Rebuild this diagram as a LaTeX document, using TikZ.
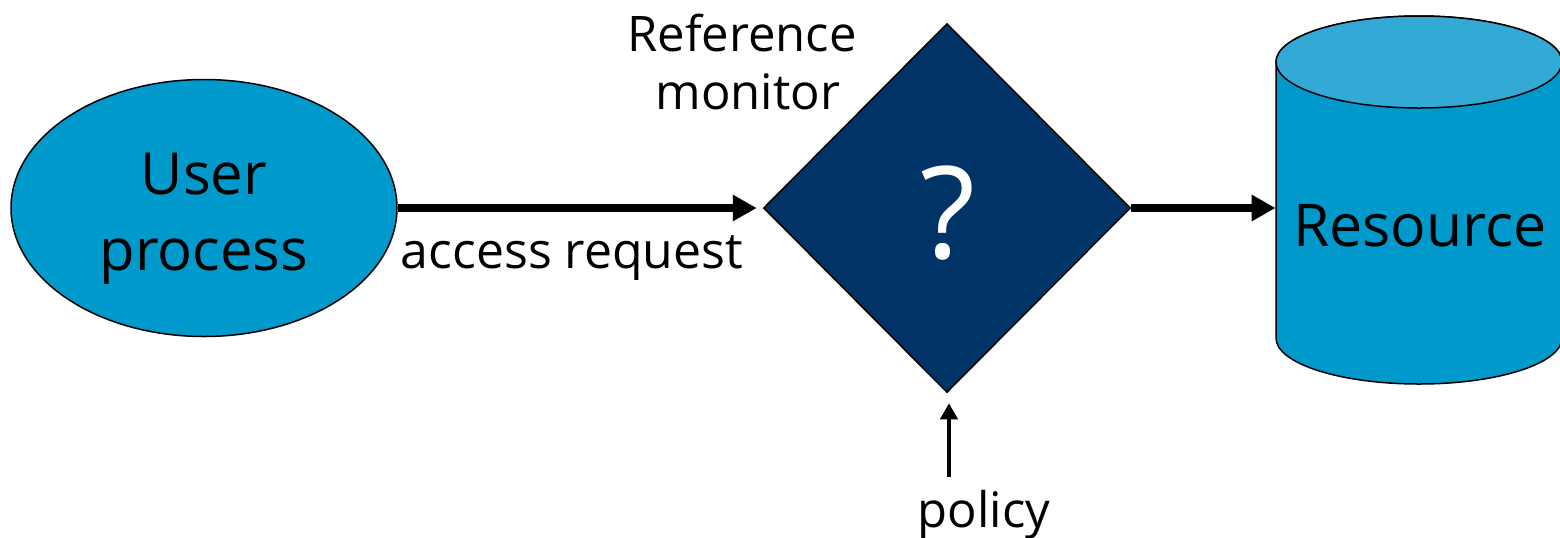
\documentclass[tikz,border=0pt]{standalone}
\usepackage{fontspec}
\setmainfont{Open Sans}
\usetikzlibrary{arrows.meta,shapes.geometric}
\definecolor{procblue}{RGB}{0,153,204}
\definecolor{toplight}{RGB}{51,170,214}
\definecolor{navy}{RGB}{0,51,102}
\tikzset{
  bigarrow/.style={line width=4pt,-{Triangle[length=12pt,width=12.5pt]}},
  smallarrow/.style={line width=2pt,-{Triangle[length=8pt,width=8.5pt]}},
  outl/.style={draw=black,line width=0.75pt},
  bigtext/.style={font=\fontsize{29}{35}\selectfont,inner sep=0},
  midtext/.style={font=\fontsize{24.5}{30}\selectfont,inner sep=0},
}
\begin{document}
\begin{tikzpicture}[x=0.5pt,y=-0.5pt]
\useasboundingbox (0,0) rectangle (1560,537);
% user process
\node[ellipse,outl,fill=procblue,minimum width=193pt,minimum height=128.5pt,inner sep=0] (user) at (204,208) {};
\node[bigtext,anchor=base] (usertxt1) at (204,194) {User};
\node[bigtext,anchor=base] (usertxt2) at (204,270) {process};
% reference monitor
\node[diamond,outl,fill=navy,minimum width=183.5pt,minimum height=184.5pt,inner sep=0,aspect=1] (rm) at (947,208) {};
\node[anchor=base,text=white,inner sep=0,font=\fontsize{64}{64}\selectfont] (q) at (948,258) {?};
\node[midtext,anchor=base] (rmtxt1) at (742,51) {Reference};
\node[midtext,anchor=base] (rmtxt2) at (748,109) {monitor};
% resource cylinder
\filldraw[fill=procblue,outl] (1276,62) -- (1276,338) arc[start angle=180,end angle=360,x radius=71.5pt,y radius=23pt] -- (1562,62) arc[start angle=0,end angle=180,x radius=71.5pt,y radius=23pt] -- cycle;
\filldraw[fill=toplight,outl] (1419,62) ellipse[x radius=71.5pt,y radius=23pt];
\node[minimum width=143pt,minimum height=184pt,inner sep=0] (res) at (1419,200) {};
\node[bigtext,anchor=base,font=\fontsize{29.5}{35}\selectfont] (restxt) at (1420,246) {Resource};
% arrows
\draw[bigarrow,shorten >=3pt] (user.east) -- (rm.west);
\node[midtext,anchor=base,font=\fontsize{25}{30}\selectfont] (acc) at (572,268) {access request};
\draw[bigarrow] (rm.east) -- (rm.east -| res.west);
\coordinate (pol) at (949,477);
\draw[smallarrow,shorten >=5pt] (pol) -- (pol |- rm.south);
\node[midtext,anchor=base] (poltxt) at (984,527) {policy};
\end{tikzpicture}
\end{document}
